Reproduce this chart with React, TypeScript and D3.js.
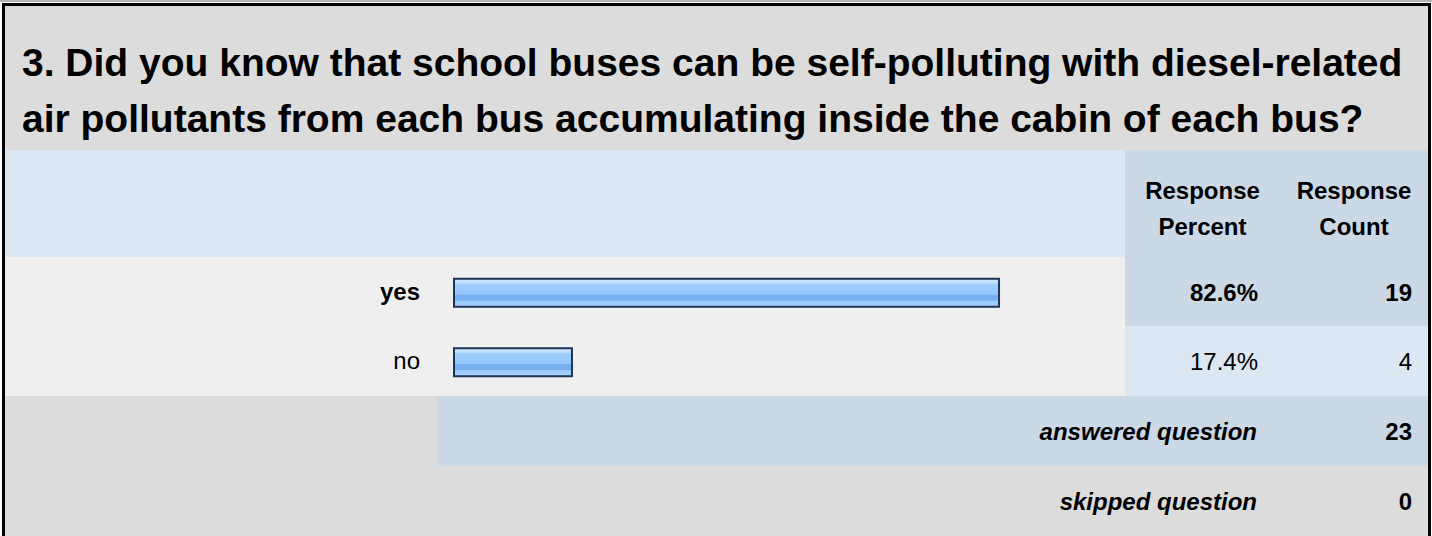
import React from 'react';
import * as d3 from 'd3';

const titleLines = [
  '3. Did you know that school buses can be self-polluting with diesel-related',
  'air pollutants from each bus accumulating inside the cabin of each bus?',
];
const columnHeads = [['Response', 'Percent'], ['Response', 'Count']];
const answers = ['yes', 'no'];
const percents = [82.6, 17.4];
const counts = [19, 4];
const summaryLabels = ['answered question', 'skipped question'];
const summaryCounts = [23, 0];

const W = 1432;
const H = 536;
const font = "'Liberation Sans', Arial, Helvetica, sans-serif";

// row edges of the table
const headTop = 150;
const bodyTop = 257;
const bodyBottom = 396;
const colPct = 1125;
const colCnt = 1280;
const right = 1428;

export default function App() {
  const xBar = d3.scaleLinear().domain([0, 100]).range([459, 459 + 655]);
  const yRow = d3.scaleBand().domain(answers).range([bodyTop, bodyBottom]);
  const ySum = d3.scaleBand().domain(summaryLabels).range([bodyBottom, H]);
  const fmt = (v: number) => d3.format('.1f')(v) + '%';
  const barLeft = 453;
  const barH = 30;
  const fs = 24;

  return (
    <div style={{ position: 'absolute', left: 0, top: 0 }}>
      <svg width={W} height={H} style={{ display: 'block' }} fontFamily={font}>
        <defs>
          <linearGradient id="barFill" x1="0" y1="0" x2="0" y2="1">
            <stop offset="0" stopColor="#d3e8ff" />
            <stop offset="0.16" stopColor="#bcdcff" />
            <stop offset="0.2" stopColor="#9fcdff" />
            <stop offset="0.55" stopColor="#96c7fd" />
            <stop offset="0.58" stopColor="#78afef" />
            <stop offset="0.76" stopColor="#78afef" />
            <stop offset="0.8" stopColor="#9ccbff" />
            <stop offset="1" stopColor="#a8d2ff" />
          </linearGradient>
        </defs>
        <rect x={0} y={0} width={W} height={H} fill="#ffffff" />
        {/* title block */}
        <rect x={5} y={6} width={right - 5} height={headTop - 6} fill="#dcdcdc" />
        {titleLines.map((t, i) => (
          <text key={t} x={22} y={76 + i * 56} fontSize={39} fontWeight="bold" fill="#000">
            {t}
          </text>
        ))}
        {/* header row */}
        <rect x={5} y={headTop} width={colPct - 5} height={bodyTop - headTop} fill="#dce7f4" />
        <rect x={colPct} y={headTop} width={right - colPct} height={bodyTop - headTop} fill="#cbd8e6" />
        {columnHeads.map((lines, c) => {
          const cx = c === 0 ? (colPct + colCnt) / 2 : (colCnt + right) / 2;
          return lines.map((t, i) => (
            <text key={c + t} x={cx} y={199 + i * 36} textAnchor="middle" fontSize={fs} fontWeight="bold">
              {t}
            </text>
          ));
        })}
        {/* answer rows */}
        {answers.map((a, i) => {
          const y0 = yRow(a) as number;
          const bh = yRow.bandwidth();
          const bold = i === 0;
          const yb = y0 + bh / 2 - barH / 2 + 1;
          const w = xBar(percents[i]) - barLeft;
          return (
            <g key={a}>
              <rect x={5} y={y0} width={colPct - 5} height={bh} fill="#efefef" />
              <rect x={colPct} y={y0} width={right - colPct} height={bh} fill={bold ? '#cbd8e6' : '#dce7f4'} />
              <text x={420} y={y0 + bh / 2 + 8} textAnchor="end" fontSize={fs} fontWeight={bold ? 'bold' : 'normal'}>
                {a}
              </text>
              <rect x={barLeft + 1} y={yb + 1} width={w - 2} height={barH - 2} fill="url(#barFill)" stroke="#1d3558" strokeWidth={2} />
              <text x={1258} y={y0 + bh / 2 + 9} textAnchor="end" fontSize={fs} fontWeight={bold ? 'bold' : 'normal'}>
                {fmt(percents[i])}
              </text>
              <text x={1412} y={y0 + bh / 2 + 9} textAnchor="end" fontSize={fs} fontWeight={bold ? 'bold' : 'normal'}>
                {counts[i]}
              </text>
            </g>
          );
        })}
        {/* summary rows */}
        {summaryLabels.map((s, i) => {
          const y0 = ySum(s) as number;
          const bh = ySum.bandwidth();
          return (
            <g key={s}>
              <rect x={5} y={y0} width={right - 5} height={bh} fill="#dcdcdc" />
              {i === 0 && <rect x={437} y={y0} width={right - 437} height={bh} fill="#cbd8e6" />}
              <text x={1257} y={y0 + bh / 2 + 9} textAnchor="end" fontSize={fs} fontWeight="bold" fontStyle="italic">
                {s}
              </text>
              <text x={1412} y={y0 + bh / 2 + 9} textAnchor="end" fontSize={fs} fontWeight="bold">
                {summaryCounts[i]}
              </text>
            </g>
          );
        })}
        {/* outer frame */}
        <line x1={0} y1={1} x2={W} y2={1} stroke="#b4b4b4" strokeWidth={2} />
        <rect x={3.5} y={4.5} width={1426} height={H + 10} fill="none" stroke="#000" strokeWidth={3} />
      </svg>
    </div>
  );
}
